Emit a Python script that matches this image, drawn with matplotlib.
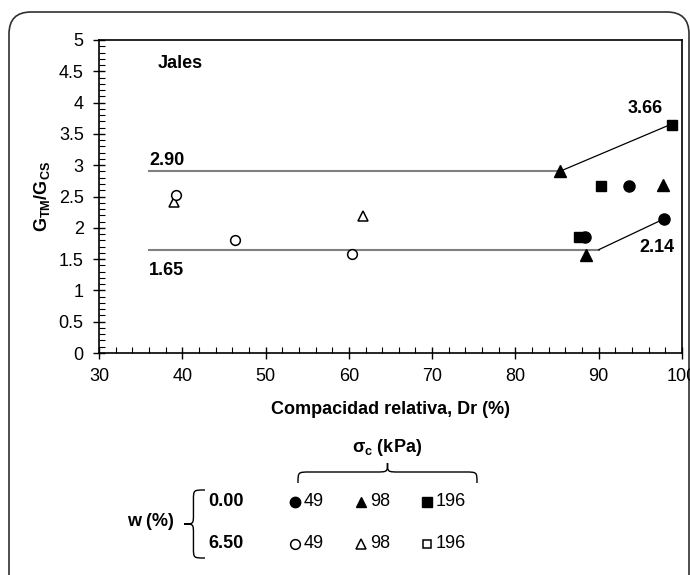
import numpy as np
import matplotlib
matplotlib.use("Agg")
import matplotlib.pyplot as plt
from matplotlib.path import Path
from matplotlib.patches import PathPatch, FancyBboxPatch
from matplotlib.ticker import MultipleLocator

plt.rcParams['font.family'] = ['Liberation Sans', 'DejaVu Sans']
plt.rcParams['mathtext.fontset'] = 'custom'
plt.rcParams['mathtext.rm'] = 'Liberation Sans'
plt.rcParams['mathtext.bf'] = 'Liberation Sans:bold'
plt.rcParams['mathtext.it'] = 'Liberation Sans:italic'

# data: Dr (%) vs GTM/GCS
dr_w0_49 = [93.6, 97.8, 88.3]
g_w0_49 = [2.66, 2.14, 1.86]
dr_w0_98 = [85.3, 88.5, 97.7]
g_w0_98 = [2.90, 1.57, 2.68]
dr_w0_196 = [98.8, 90.3, 87.6]
g_w0_196 = [3.65, 2.67, 1.86]

dr_w65_49 = [39.3, 46.3, 60.4]
g_w65_49 = [2.52, 1.80, 1.58]
dr_w65_98 = [39.0, 61.7]
g_w65_98 = [2.42, 2.19]

# envelope lines
upper_x = [36.0, 85.3]
upper_y = [2.90, 2.90]
upper_link_x = [85.3, 98.8]
upper_link_y = [2.90, 3.66]
lower_x = [36.0, 90.0]
lower_y = [1.65, 1.65]
lower_link_x = [90.0, 97.8]
lower_link_y = [1.65, 2.14]

sigma_labels = ['49', '98', '196']
w_labels = ['0.00', '6.50']

FS = 13

fig = plt.figure(figsize=(6.9, 5.75), dpi=100)
W, H = 690, 575

ax = fig.add_axes([99 / W, 1 - 353 / H, 583 / W, 313 / H])

ax.plot(upper_x, upper_y, color='#808080', lw=1.5, zorder=1)
ax.plot(lower_x, lower_y, color='#808080', lw=1.5, zorder=1)
ax.plot(upper_link_x, upper_link_y, color='black', lw=0.9, zorder=1)
ax.plot(lower_link_x, lower_link_y, color='black', lw=0.9, zorder=1)

ax.plot(dr_w0_49, g_w0_49, 'o', color='black', ms=8, ls='none', zorder=3)
ax.plot(dr_w0_98, g_w0_98, '^', color='black', ms=8, ls='none', zorder=3)
ax.plot(dr_w0_196, g_w0_196, 's', color='black', ms=7, ls='none', zorder=3)
ax.plot(dr_w65_49, g_w65_49, 'o', mfc='white', mec='black', mew=1.1, ms=7, ls='none', zorder=3)
ax.plot(dr_w65_98, g_w65_98, '^', mfc='white', mec='black', mew=1.1, ms=7, ls='none', zorder=2)

ax.set_xlim(30, 100)
ax.set_ylim(0, 5)
ax.xaxis.set_major_locator(MultipleLocator(10))
ax.xaxis.set_minor_locator(MultipleLocator(2))
ax.yaxis.set_minor_locator(MultipleLocator(0.1))
ax.set_yticks(np.arange(0, 5.01, 0.5))
ax.set_yticklabels(['0', '0.5', '1', '1.5', '2', '2.5', '3', '3.5', '4', '4.5', '5'])
ax.tick_params(which='major', direction='inout', length=8, width=1, labelsize=FS, pad=7)
ax.tick_params(which='minor', direction='in', length=4, width=0.8)
for s in ax.spines.values():
    s.set_linewidth(1.2)

ax.set_xlabel('Compacidad relativa, Dr (%)', fontsize=FS, fontweight='bold', labelpad=11)
ax.set_ylabel(r'$\mathbf{G_{TM}/G_{CS}}$', fontsize=FS, labelpad=5)

ax.text(37.1, 4.63, 'Jales', fontsize=FS, fontweight='bold', va='center')
ax.text(36.0, 3.07, '2.90', fontsize=FS, fontweight='bold', va='center')
ax.text(36.0, 1.32, '1.65', fontsize=FS, fontweight='bold', va='center')
ax.text(93.5, 3.90, '3.66', fontsize=FS, fontweight='bold', va='center')
ax.text(94.9, 1.69, '2.14', fontsize=FS, fontweight='bold', va='center')

# overlay in pixel coordinates for frame and key
ov = fig.add_axes([0, 0, 1, 1], zorder=-1)
ov.set_xlim(0, W)
ov.set_ylim(H, 0)
ov.axis('off')
ov.add_patch(FancyBboxPatch((9, 12), 680, 600, boxstyle='round,pad=0,rounding_size=22',
                            fc='none', ec='#303030', lw=1.2, clip_on=True))

key = fig.add_axes([0, 0, 1, 1])
key.set_xlim(0, W)
key.set_ylim(H, 0)
key.axis('off')
key.patch.set_alpha(0)


def hbrace(x0, x1, y_end, y_tip, r=12):
    xm = (x0 + x1) / 2
    yb = y_tip + (y_end - y_tip) * 0.45
    verts = [(x0, y_end), (x0, yb), (x0, yb), (x0 + r, yb),
             (xm - r, yb), (xm, yb), (xm, yb), (xm, y_tip),
             (xm, yb), (xm, yb), (xm + r, yb),
             (x1 - r, yb), (x1, yb), (x1, yb), (x1, y_end)]
    codes = [Path.MOVETO, Path.CURVE4, Path.CURVE4, Path.CURVE4,
             Path.LINETO, Path.CURVE4, Path.CURVE4, Path.CURVE4,
             Path.CURVE4, Path.CURVE4, Path.CURVE4,
             Path.LINETO, Path.CURVE4, Path.CURVE4, Path.CURVE4]
    key.add_patch(PathPatch(Path(verts, codes), fc='none', ec='black', lw=1))


def vbrace(y0, y1, x_end, x_tip, r=10):
    ym = (y0 + y1) / 2
    xb = x_tip + (x_end - x_tip) * 0.45
    verts = [(x_end, y0), (xb, y0), (xb, y0), (xb, y0 + r),
             (xb, ym - r), (xb, ym), (xb, ym), (x_tip, ym),
             (xb, ym), (xb, ym), (xb, ym + r),
             (xb, y1 - r), (xb, y1), (xb, y1), (x_end, y1)]
    codes = [Path.MOVETO, Path.CURVE4, Path.CURVE4, Path.CURVE4,
             Path.LINETO, Path.CURVE4, Path.CURVE4, Path.CURVE4,
             Path.CURVE4, Path.CURVE4, Path.CURVE4,
             Path.LINETO, Path.CURVE4, Path.CURVE4, Path.CURVE4]
    key.add_patch(PathPatch(Path(verts, codes), fc='none', ec='black', lw=1))


key.text(387, 447, r'$\mathbf{\sigma_c}$ (kPa)', fontsize=FS, fontweight='bold', ha='center', va='center')
hbrace(298, 477, 483, 463)
key.text(150, 522, 'w (%)', fontsize=FS, fontweight='bold', ha='center', va='center')
vbrace(490, 558, 205, 184)

row_y = [502, 544]
for wl, yy in zip(w_labels, row_y):
    key.text(208, yy, wl, fontsize=FS, fontweight='bold', va='center')

mk_x = [295, 361, 427]
mk = ['o', '^', 's']
mk_size = [8, 8, 7]
for i, (xx, m, lab) in enumerate(zip(mk_x, mk, sigma_labels)):
    key.plot(xx, row_y[0], m, color='black', ms=mk_size[i] - 0.5)
    key.plot(xx, row_y[1], m, mfc='white', mec='black', mew=1.1, ms=mk_size[i] - 1)
    key.text(xx + 9, row_y[0], lab, fontsize=FS, va='center')
    key.text(xx + 9, row_y[1], lab, fontsize=FS, va='center')

fig.savefig('out.png', dpi=100)
